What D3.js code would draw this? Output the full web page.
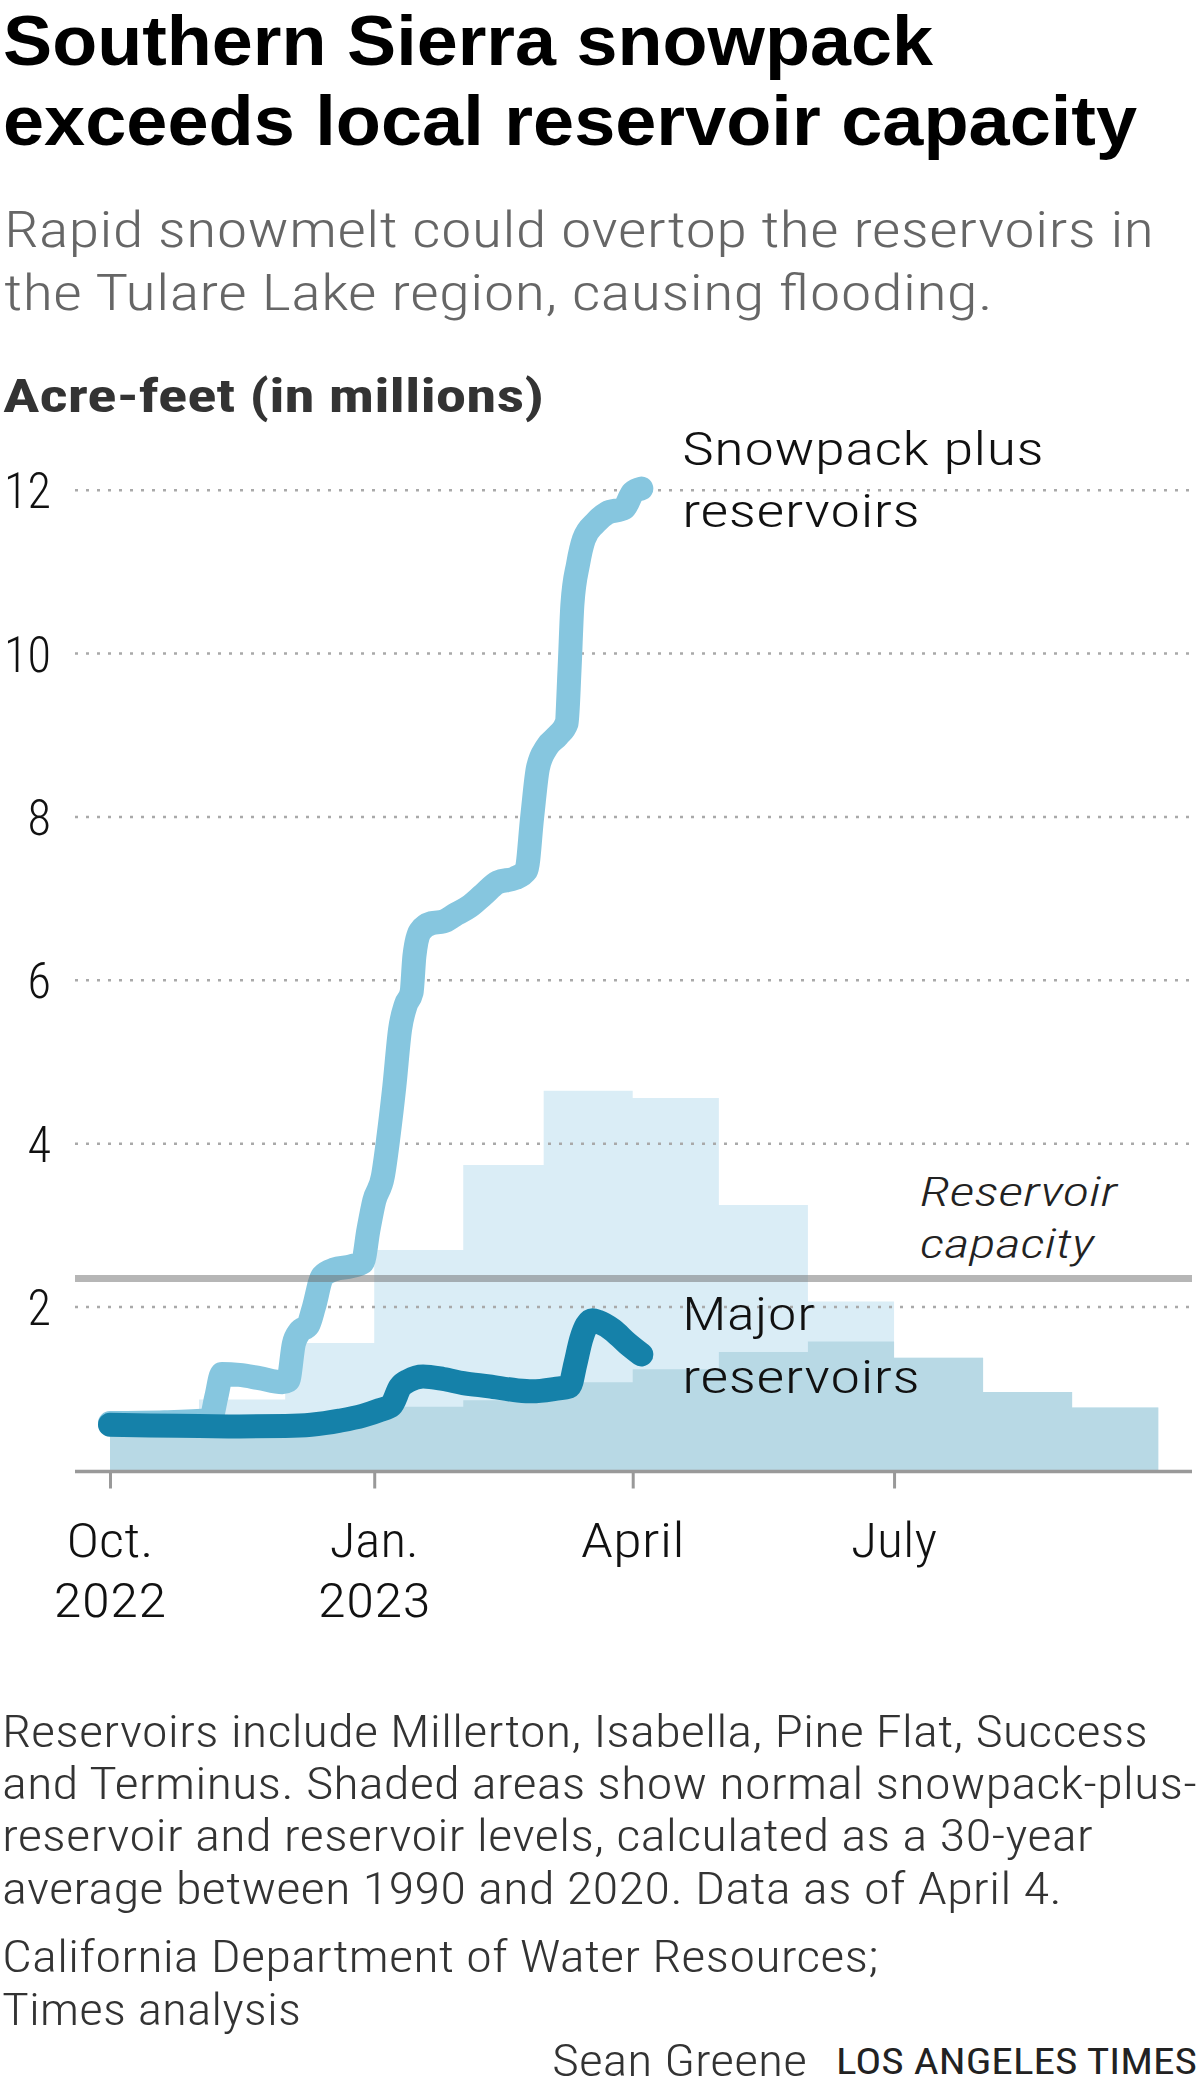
<!DOCTYPE html>
<html>
<head>
<meta charset="utf-8">
<script src="https://cdn.jsdelivr.net/npm/d3@7"></script>
<style>
  html, body { margin: 0; padding: 0; background: #fff; }
  svg { display: block; }
  text { font-family: 'Roboto Condensed', 'Liberation Sans Narrow', Roboto, 'Liberation Sans', sans-serif; }
  text.title { font-family: 'Liberation Sans', Arial, sans-serif; }
</style>
</head>
<body>
<script>
// ---------------- DATA ----------------
const snowDates = [
  "2022-10-01","2022-10-20","2022-11-05","2022-11-07","2022-11-09","2022-11-15","2022-11-22","2022-11-30",
  "2022-12-02","2022-12-04","2022-12-06","2022-12-09","2022-12-11","2022-12-14","2022-12-18","2022-12-24",
  "2022-12-28","2022-12-30","2023-01-01","2023-01-04","2023-01-06","2023-01-08","2023-01-10","2023-01-12",
  "2023-01-14","2023-01-15","2023-01-17","2023-01-21","2023-01-25","2023-01-29","2023-02-03","2023-02-08",
  "2023-02-13","2023-02-19","2023-02-23","2023-02-25","2023-02-27","2023-03-02","2023-03-06","2023-03-09",
  "2023-03-10","2023-03-11","2023-03-13","2023-03-15","2023-03-19","2023-03-23","2023-03-29","2023-04-01",
  "2023-04-04"
];
const snowValues = [
  0.58,0.59,0.62,0.9,1.18,1.17,1.13,1.08,
  1.1,1.55,1.7,1.78,2.0,2.38,2.46,2.5,
  2.55,2.95,3.3,3.6,4.1,4.7,5.4,5.7,
  5.85,6.3,6.6,6.7,6.72,6.8,6.9,7.05,
  7.2,7.25,7.35,8.0,8.6,8.85,9.0,9.15,
  9.8,10.6,11.1,11.4,11.6,11.72,11.78,11.97,
  12.02
];

const reservoirDates = [
  "2022-10-01","2022-10-15","2022-11-01","2022-11-15","2022-12-01","2022-12-10","2022-12-20","2022-12-28",
  "2023-01-03","2023-01-07","2023-01-10","2023-01-13","2023-01-18","2023-01-25","2023-02-01","2023-02-10",
  "2023-02-20","2023-02-25","2023-03-05","2023-03-10","2023-03-12","2023-03-14","2023-03-16","2023-03-18",
  "2023-03-20","2023-03-25","2023-03-30","2023-04-04"
];
const reservoirValues = [
  0.56,0.55,0.545,0.54,0.545,0.56,0.61,0.67,
  0.74,0.80,1.02,1.10,1.15,1.12,1.07,1.03,
  0.98,0.97,1.0,1.03,1.3,1.6,1.78,1.84,
  1.82,1.72,1.56,1.42
];

const normalMonths = ["2022-10-01","2022-11-01","2022-12-01","2023-01-01","2023-02-01","2023-03-01",
                      "2023-04-01","2023-05-01","2023-06-01","2023-07-01","2023-08-01","2023-09-01"];
const normalEnd = "2023-10-01";
const normalSnowPlusReservoir = [0.58,0.87,1.56,2.70,3.74,4.65,4.56,3.25,2.07,1.38,0.96,0.77];
const normalReservoir        = [0.52,0.52,0.60,0.78,0.86,1.08,1.24,1.45,1.58,1.38,0.96,0.77];

const reservoirCapacity = 2.35;
const yTickValues = [2,4,6,8,10,12];
const xTickDates = ["2022-10-01","2023-01-01","2023-04-01","2023-07-01"];
const xTickLabels = [["Oct.","2022"],["Jan.","2023"],["April"],["July"]];

// ---------------- SETUP ----------------
const W = 1200, H = 2100;
const parse = d3.timeParse("%Y-%m-%d");
const svg = d3.select("body").append("svg").attr("width", W).attr("height", H);

const x = d3.scaleTime()
  .domain([parse("2022-10-01"), parse("2023-10-01")])
  .range([110, 110 + 365 * 2.872]);
const y = d3.scaleLinear().domain([0, 12]).range([1470.5, 490.2]);
const plotLeft = 75, plotRight = 1192;

function txt(g, xx, yy, str, o) {
  o = o || {};
  const t = g.append("text")
    .attr("x", xx).attr("y", yy)
    .attr("font-size", o.size || 44)
    .attr("font-weight", o.weight || 300)
    .attr("fill", o.color || "#222")
    .attr("text-anchor", o.anchor || "start")
    .text(str);
  if (o.style) t.attr("font-style", o.style);
  if (o.cls) t.attr("class", o.cls);
  if (o.width) t.attr("textLength", o.width).attr("lengthAdjust", "spacingAndGlyphs");
  return t;
}

// ---------------- HEADER ----------------
txt(svg, 3, 65, "Southern Sierra snowpack", {size: 71, weight: 700, color: "#000", width: 930, cls: "title"});
txt(svg, 3, 145, "exceeds local reservoir capacity", {size: 71, weight: 700, color: "#000", width: 1134, cls: "title"});

const sub = svg.append("text")
  .attr("font-size", 50).attr("font-weight", 300).attr("fill", "#666");
sub.append("tspan").attr("x", 4).attr("y", 247)
  .attr("textLength", 1150).attr("lengthAdjust", "spacingAndGlyphs")
  .text("Rapid snowmelt could overtop the reservoirs in");
sub.append("tspan").attr("x", 4).attr("y", 310)
  .attr("textLength", 989).attr("lengthAdjust", "spacingAndGlyphs")
  .text("the Tulare Lake region, causing flooding.");

txt(svg, 3, 412, "Acre-feet (in millions)", {size: 47, weight: 700, color: "#333", width: 541});

// ---------------- SHADED NORMALS ----------------
const monthDates = normalMonths.map(parse).concat([parse(normalEnd)]);
const totalData = monthDates.map((d, i) => ({d, v: normalSnowPlusReservoir[Math.min(i, normalSnowPlusReservoir.length - 1)]}));
const resNormData = monthDates.map((d, i) => ({d, v: normalReservoir[Math.min(i, normalReservoir.length - 1)]}));

const stepArea = d3.area()
  .curve(d3.curveStepAfter)
  .x(p => x(p.d))
  .y0(y(0))
  .y1(p => y(p.v));

svg.append("path").datum(totalData).attr("d", stepArea).attr("fill", "#daedf6");
svg.append("path").datum(resNormData).attr("d", stepArea).attr("fill", "#b8d9e5");

// ---------------- GRID ----------------
const grid = svg.append("g");
yTickValues.forEach(v => {
  grid.append("line")
    .attr("x1", plotLeft).attr("x2", plotRight)
    .attr("y1", y(v)).attr("y2", y(v))
    .attr("stroke", "#a9a9a9").attr("stroke-width", 2.5)
    .attr("stroke-dasharray", "3,8");
  txt(grid, 51, y(v) + 18, String(v), {size: 50, color: "#111", anchor: "end", width: String(v).length * 23.5});
});

// ---------------- LINES ----------------
const lineGen = d3.line().curve(d3.curveMonotoneX).x(p => x(p.d)).y(p => y(p.v));
const snowData = snowDates.map((d, i) => ({d: parse(d), v: snowValues[i]}));
const resData = reservoirDates.map((d, i) => ({d: parse(d), v: reservoirValues[i]}));

svg.append("path").datum(snowData).attr("d", lineGen)
  .attr("fill", "none").attr("stroke", "#86c6df").attr("stroke-width", 24)
  .attr("stroke-linecap", "round").attr("stroke-linejoin", "round");
svg.append("path").datum(resData).attr("d", lineGen)
  .attr("fill", "none").attr("stroke", "#1581a9").attr("stroke-width", 24)
  .attr("stroke-linecap", "round").attr("stroke-linejoin", "round");

// capacity line
svg.append("line")
  .attr("x1", plotLeft).attr("x2", plotRight)
  .attr("y1", y(reservoirCapacity)).attr("y2", y(reservoirCapacity))
  .attr("stroke", "#6e6e6e").attr("stroke-opacity", 0.5).attr("stroke-width", 7);

// ---------------- X AXIS ----------------
const xAxisG = svg.append("g").attr("transform", `translate(0,${y(0)})`);
xAxisG.call(d3.axisBottom(x).tickValues(xTickDates.map(parse)).tickSize(18).tickFormat(""));
xAxisG.select(".domain").remove();
xAxisG.selectAll(".tick line").attr("stroke", "#999").attr("stroke-width", 3);
svg.append("line")
  .attr("x1", plotLeft).attr("x2", plotRight)
  .attr("y1", y(0) + 1).attr("y2", y(0) + 1)
  .attr("stroke", "#999").attr("stroke-width", 3.5);

const xLabelWidths = [[87, 113], [89, 113], [104], [86]];
xTickDates.forEach((ds, i) => {
  const xx = x(parse(ds));
  xTickLabels[i].forEach((lab, j) => {
    txt(svg, xx, 1557 + j * 60, lab, {size: 49, color: "#111", anchor: "middle", width: xLabelWidths[i][j]});
  });
});

// ---------------- ANNOTATIONS ----------------
txt(svg, 682, 465, "Snowpack plus", {size: 46, color: "#111", width: 362});
txt(svg, 682, 527, "reservoirs", {size: 46, color: "#111", width: 238});
txt(svg, 682, 1330, "Major", {size: 46, color: "#111", width: 133});
txt(svg, 682, 1393, "reservoirs", {size: 46, color: "#111", width: 238});
txt(svg, 920, 1206, "Reservoir", {size: 40, color: "#222", style: "italic", width: 197});
txt(svg, 920, 1258, "capacity", {size: 40, color: "#222", style: "italic", width: 174});

// ---------------- FOOTER ----------------
const notes = [
  ["Reservoirs include Millerton, Isabella, Pine Flat, Success", 1146],
  ["and Terminus. Shaded areas show normal snowpack-plus-", 1195],
  ["reservoir and reservoir levels, calculated as a 30-year", 1091],
  ["average between 1990 and 2020. Data as of April 4.", 1060]
];
const noteText = svg.append("text").attr("font-size", 45).attr("font-weight", 300).attr("fill", "#333");
notes.forEach((n, i) => noteText.append("tspan").attr("x", 2).attr("y", 1747 + i * 52.2)
  .attr("textLength", n[1]).attr("lengthAdjust", "spacingAndGlyphs").text(n[0]));

const srcText = svg.append("text").attr("font-size", 45).attr("font-weight", 300).attr("fill", "#333");
srcText.append("tspan").attr("x", 2).attr("y", 1972)
  .attr("textLength", 876).attr("lengthAdjust", "spacingAndGlyphs")
  .text("California Department of Water Resources;");
srcText.append("tspan").attr("x", 2).attr("y", 2025)
  .attr("textLength", 299).attr("lengthAdjust", "spacingAndGlyphs")
  .text("Times analysis");

txt(svg, 552, 2076, "Sean Greene", {size: 45, color: "#333", width: 255});
txt(svg, 836, 2074, "LOS ANGELES TIMES", {size: 36, weight: 400, color: "#222", width: 361});
</script>
</body>
</html>
